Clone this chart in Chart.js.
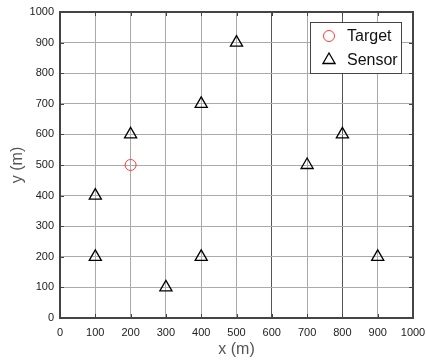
<!DOCTYPE html>
<html>
<head>
<meta charset="utf-8">
<script src="https://cdn.jsdelivr.net/npm/chart.js@4/dist/chart.umd.min.js"></script>
<style>
  html, body { margin: 0; padding: 0; background: #fff; }
  #wrap { width: 426px; height: 363px; }
</style>
</head>
<body>
<div id="wrap"><canvas id="c" width="426" height="363"></canvas></div>
<script>
// ── Data ───────────────────────────────────────────────────
const targetX = [200];
const targetY = [500];
const sensorX = [100, 100, 200, 300, 400, 400, 500, 700, 800, 900];
const sensorY = [200, 400, 600, 100, 200, 700, 900, 500, 600, 200];
const axisTicks = [0, 100, 200, 300, 400, 500, 600, 700, 800, 900, 1000];

const toPoints = (xs, ys) => xs.map((x, i) => ({ x, y: ys[i] }));

const FONT = "'Liberation Sans', Arial, sans-serif";
const FRAME = '#444';

// grid lines at 600 / 800 on x look heavier in the source
const xGridColor = ctx => (ctx.tick && (ctx.tick.value === 600 || ctx.tick.value === 800)) ? '#555' : '#aaa';

// ── Plugins: frame with inward ticks, boxed legend ─────────
const framePlugin = {
  id: 'frame',
  afterDatasetsDraw(chart) {
    const { ctx, chartArea: a, scales } = chart;
    ctx.save();
    ctx.strokeStyle = FRAME;
    ctx.lineWidth = 2;
    ctx.strokeRect(a.left, a.top, a.right - a.left, a.bottom - a.top);
    ctx.lineWidth = 1;
    ctx.beginPath();
    axisTicks.forEach(v => {
      const px = Math.round(scales.x.getPixelForValue(v)) + 0.5;
      ctx.moveTo(px, a.bottom); ctx.lineTo(px, a.bottom - 4);
      ctx.moveTo(px, a.top); ctx.lineTo(px, a.top + 4);
      const py = Math.round(scales.y.getPixelForValue(v)) + 0.5;
      ctx.moveTo(a.left, py); ctx.lineTo(a.left + 4, py);
      ctx.moveTo(a.right, py); ctx.lineTo(a.right - 4, py);
    });
    ctx.stroke();
    ctx.restore();
  }
};

const legendPlugin = {
  id: 'boxLegend',
  afterDraw(chart) {
    const { ctx } = chart;
    const x0 = 310, y0 = 22, w = 91, h = 51;
    ctx.save();
    ctx.fillStyle = '#fff';
    ctx.fillRect(x0, y0, w, h);
    ctx.strokeStyle = FRAME;
    ctx.lineWidth = 1;
    ctx.strokeRect(x0 + 0.5, y0 + 0.5, w, h);
    chart.data.datasets.forEach((ds, i) => {
      const cy = y0 + 14 + i * 24;
      ctx.fillStyle = 'rgba(0,0,0,0)';
      ctx.strokeStyle = ds.borderColor;
      ctx.lineWidth = ds.borderWidth;
      Chart.helpers.drawPoint(ctx, {
        pointStyle: ds.pointStyle, radius: ds.pointRadius,
        borderWidth: ds.borderWidth, rotation: 0
      }, x0 + 19, cy);
      ctx.fillStyle = '#111';
      ctx.font = "16px 'Liberation Sans', Arial, sans-serif";
      ctx.textBaseline = 'middle';
      ctx.fillText(ds.label, x0 + 37, cy + 1);
    });
    ctx.restore();
  }
};

const plainTick = v => String(v);

// ── Chart ──────────────────────────────────────────────────
new Chart(document.getElementById('c'), {
  type: 'scatter',
  data: {
    datasets: [
      {
        label: 'Target',
        data: toPoints(targetX, targetY),
        pointStyle: 'circle',
        pointRadius: 5.5,
        borderColor: '#ff3b3b',
        backgroundColor: 'rgba(0,0,0,0)',
        borderWidth: 1,
      },
      {
        label: 'Sensor',
        data: toPoints(sensorX, sensorY),
        pointStyle: 'triangle',
        pointRadius: 7,
        borderColor: '#000',
        backgroundColor: 'rgba(0,0,0,0)',
        borderWidth: 1.3,
      },
    ],
  },
  options: {
    responsive: false,
    animation: false,
    events: [],
    layout: { padding: { top: 12, right: 13, left: 0, bottom: 0 } },
    plugins: { legend: { display: false }, tooltip: { enabled: false } },
    scales: {
      x: {
        type: 'linear',
        min: 0, max: 1000,
        afterFit: s => { s.height = 45; s.paddingLeft = 0; s.paddingRight = 0; },
        afterBuildTicks: s => { s.ticks = axisTicks.map(v => ({ value: v })); },
        grid: { color: xGridColor, drawTicks: false, lineWidth: 1 },
        border: { display: false },
        ticks: { color: '#222', font: { family: FONT, size: 11 }, padding: 8, maxRotation: 0, callback: plainTick },
        title: {
          display: true, text: 'x (m)', color: '#555',
          font: { family: FONT, size: 16 },
          padding: { top: 0, bottom: 4 },
        },
      },
      y: {
        type: 'linear',
        min: 0, max: 1000,
        afterFit: s => { s.width = 60; s.paddingTop = 0; s.paddingBottom = 0; },
        afterBuildTicks: s => { s.ticks = axisTicks.map(v => ({ value: v })); },
        grid: { color: '#aaa', drawTicks: false, lineWidth: 1 },
        border: { display: false },
        ticks: { color: '#222', font: { family: FONT, size: 11 }, padding: 6, callback: plainTick },
        title: {
          display: true, text: 'y (m)', color: '#555',
          font: { family: FONT, size: 16 },
          padding: { top: 8, bottom: 0 },
        },
      },
    },
  },
  plugins: [framePlugin, legendPlugin],
});
</script>
</body>
</html>
